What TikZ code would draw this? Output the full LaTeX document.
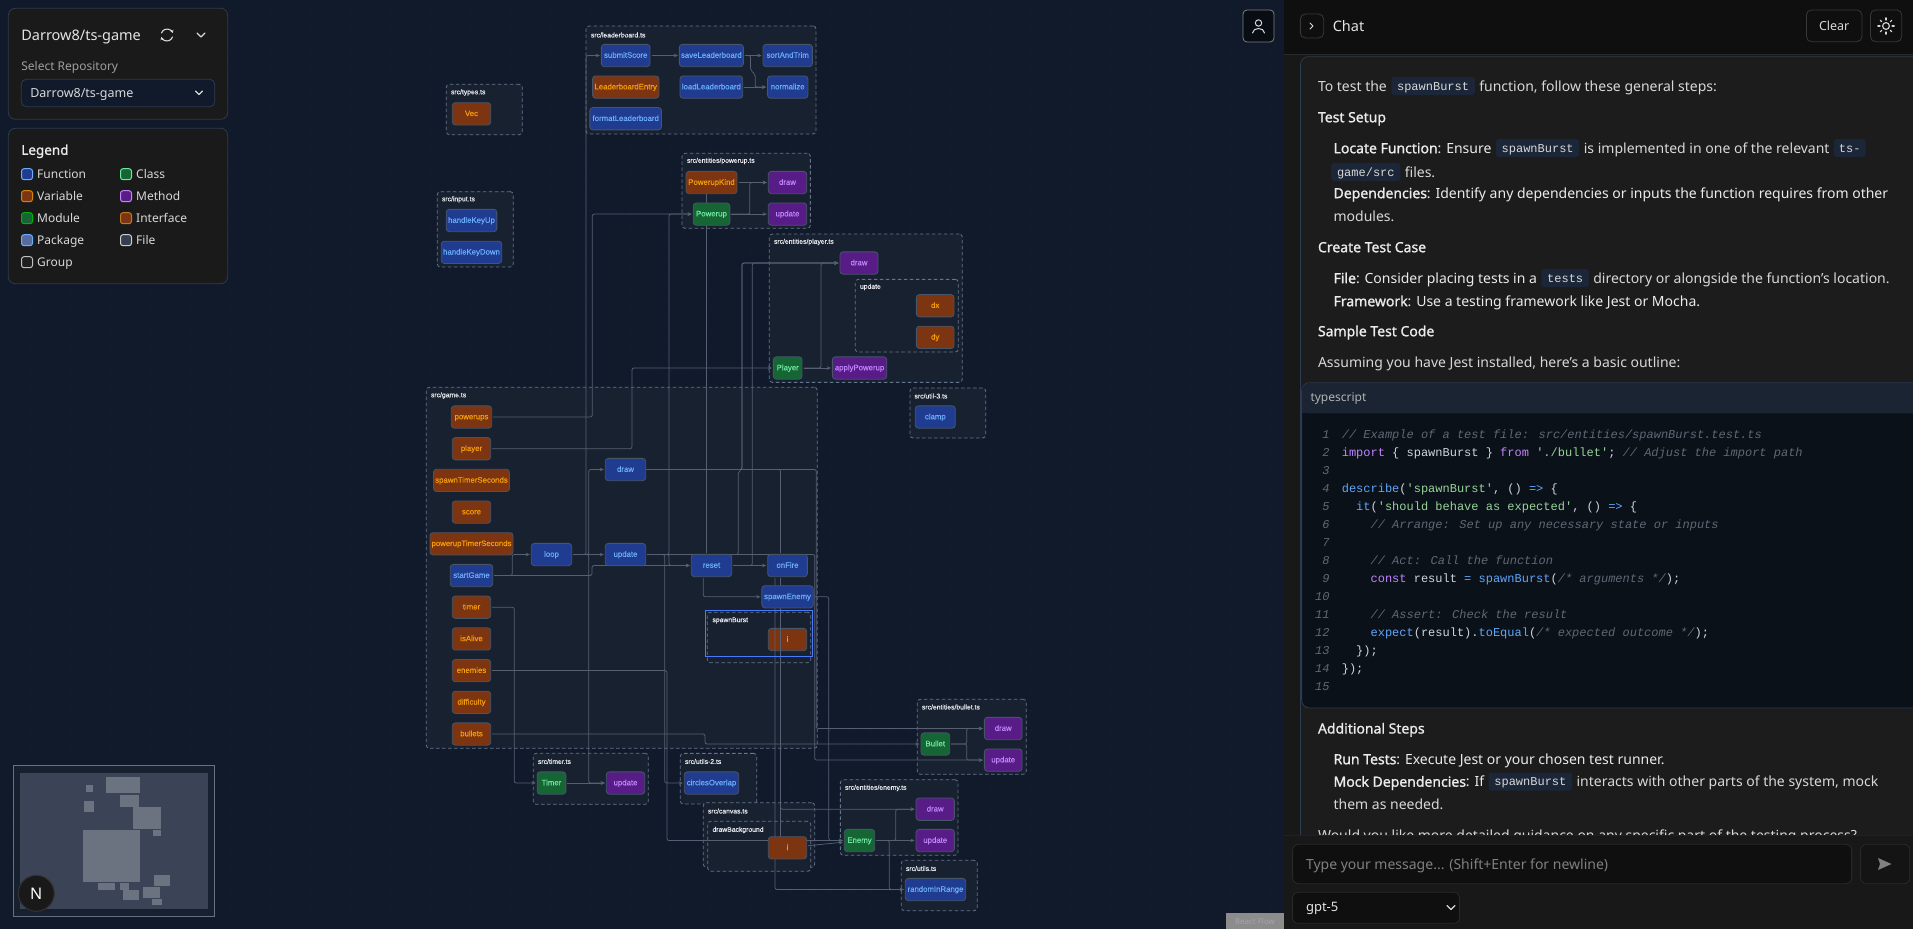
\documentclass[tikz,border=0pt]{standalone}
\usepackage{xcolor}
\usepackage{tikz}
\usepackage{fontspec}
\usetikzlibrary{positioning, arrows.meta, calc}
\setmainfont{Noto Sans}[BoldFont={Noto Sans}, BoldFeatures={FakeBold=1.1}]
\newfontfamily\codefont{Liberation Mono}
\newfontfamily\nodefont{Liberation Sans}[FakeBold=.35]
\pgfdeclarelayer{boxes}
\pgfdeclarelayer{wires}
\pgfsetlayers{boxes,wires,main}
\definecolor{canvas}{HTML}{111A2B}
\definecolor{griddot}{HTML}{1E2838}
\definecolor{groupfill}{HTML}{182130}
\definecolor{groupline}{HTML}{64748B}
\definecolor{wire}{HTML}{566072}
\definecolor{nodeline}{HTML}{475569}
\definecolor{funcfill}{HTML}{1F3C90}
\definecolor{functext}{HTML}{6BADFB}
\definecolor{varfill}{HTML}{7C3510}
\definecolor{vartext}{HTML}{F59E0B}
\definecolor{classfill}{HTML}{166534}
\definecolor{classtext}{HTML}{6EE7A0}
\definecolor{methfill}{HTML}{581C87}
\definecolor{methtext}{HTML}{C084FC}
\definecolor{panel}{HTML}{1A1A1A}
\definecolor{panelline}{HTML}{2C3B4F}
\definecolor{chatbg}{HTML}{1C1C1C}
\definecolor{chatfg}{HTML}{D8D8D8}
\definecolor{pillbg}{HTML}{1B2638}
\definecolor{codebg}{HTML}{0B1119}
\definecolor{codehead}{HTML}{1B2433}
\definecolor{cmt}{HTML}{5F6875}
\definecolor{kwd}{HTML}{C084FC}
\definecolor{fnc}{HTML}{60A5FA}
\definecolor{strg}{HTML}{98D39A}
\definecolor{plain}{HTML}{D1D5DB}
\definecolor{miniframe}{HTML}{667085}
\definecolor{miniback}{HTML}{17202F}
\definecolor{miniarea}{HTML}{3A4456}
\definecolor{miniblock}{HTML}{6B7280}

\begin{document}
\begin{tikzpicture}[x=1pt, y=-1pt, every node/.append style={outer sep=0pt},
		gnode/.style={draw=nodeline, rounded corners=3pt, line width=.8pt, minimum height=22.3pt, inner sep=0pt,
			text height=6pt, text depth=1.5pt, font=\fontsize{7.8}{9}\nodefont},
		func/.style={gnode, fill=funcfill, text=functext},
		var/.style={gnode, fill=varfill, text=vartext},
		cls/.style={gnode, fill=classfill, text=classtext},
		meth/.style={gnode, fill=methfill, text=methtext},
		filebox/.style={draw=groupline, fill=groupfill, dash pattern=on 3.5pt off 2.5pt, rounded corners=3pt, line width=.8pt, inner sep=0pt},
		grouplabel/.style={inner sep=0pt, anchor=west, yshift=-1pt, text=white!85!groupline, font=\fontsize{6.8}{8}\nodefont},
		link/.style={draw=wire, line width=.75pt, rounded corners=2pt, shorten <=1.5pt},
		flow/.style={link, shorten >=1.5pt, -{Stealth[length=4pt, width=3.6pt]}},
		card/.style={draw=panelline, fill=panel, rounded corners=7pt, line width=.8pt, inner sep=0pt},
		swatch/.style={rounded corners=2.5pt, line width=1pt, minimum width=11pt, minimum height=11pt, inner sep=0pt},
		legtext/.style={inner sep=0pt, text=chatfg, text height=10pt, text depth=1.5pt, font=\fontsize{12}{14}\selectfont},
		chat/.style={inner sep=0pt, anchor=west, text=chatfg, text height=11.7pt, text depth=1.3pt, font=\fontsize{14}{17}\selectfont},
		chathead/.style={chat, text=white!92!black, font=\fontsize{14}{17}\selectfont\bfseries},
		pill/.style={fill=pillbg, rounded corners=3pt, inner xsep=5.8pt, inner ysep=0pt, minimum height=18pt, text=chatfg,
			text height=9.5pt, text depth=1.5pt, font=\fontsize{12}{14}\codefont},
		code/.style={inner sep=0pt, anchor=west, text=plain, text height=9.5pt, text depth=1.5pt, font=\fontsize{12}{14}\codefont},
		lineno/.style={inner sep=0pt, anchor=east, text=cmt, text height=9.5pt, text depth=1.5pt, font=\fontsize{12}{14}\codefont\itshape},
		cmtline/.style={code, text=cmt, font=\fontsize{12}{14}\codefont\itshape},
		button/.style={draw=white!22!black, rounded corners=5pt, line width=.8pt, inner sep=0pt},
		iconline/.style={draw=white!85!black, line width=1.1pt, line cap=round, line join=round}]

	\useasboundingbox (0,0) rectangle (1913,929);
	\clip (0,0) rectangle (1913,929);

	\begin{pgfonlayer}{boxes}
		\fill[canvas] (0,0) rectangle (1284,929);
		\foreach \gx in {10,30,...,1270}
			\foreach \gy in {10,30,...,920}
				\fill[griddot] (\gx,\gy) rectangle ++(1.2,1.2);

		\node[filebox, minimum width=230pt, minimum height=108pt] (file-lb) at (701,80) {};
		\node[filebox, minimum width=76pt, minimum height=50.4pt] (file-types) at (484.3,109.5) {};
		\node[filebox, minimum width=76pt, minimum height=75.3pt] (file-input) at (475.3,229.3) {};
		\node[filebox, minimum width=128.3pt, minimum height=75pt] (file-pu) at (746.2,190.8) {};
		\node[filebox, minimum width=193pt, minimum height=148.3pt] (file-pl) at (865.8,308.2) {};
		\node[filebox, minimum width=103pt, minimum height=72.7pt] (group-update) at (906.8,315.7) {};
		\node[filebox, minimum width=75.7pt, minimum height=50pt] (file-util3) at (947.8,413) {};
		\node[filebox, minimum width=391pt, minimum height=361pt] (file-game) at (621.8,567.8) {};
		\node[filebox, minimum width=103.4pt, minimum height=50.4pt] (group-burst) at (759,637.5) {};
		\node[filebox, minimum width=109pt, minimum height=75pt] (file-bullet) at (971.8,736.8) {};
		\node[filebox, minimum width=76.4pt, minimum height=50.7pt] (file-util2) at (718.5,778.7) {};
		\node[filebox, minimum width=115pt, minimum height=51pt] (file-timer) at (590.8,778.8) {};
		\node[filebox, minimum width=111.4pt, minimum height=64.6pt] (file-canvas) at (759,835) {};
		\node[filebox, minimum width=103pt, minimum height=50pt] (group-bg) at (759.2,846.3) {};
		\node[filebox, minimum width=117.7pt, minimum height=75.6pt] (file-enemy) at (899.2,817.5) {};
		\node[filebox, minimum width=76pt, minimum height=50.4pt] (file-utils) at (939.3,885.5) {};

		\node[grouplabel] at (591,34) (lab-lb) {src/leaderboard.ts};
		\node[grouplabel] at (451,91.5) (lab-types) {src/types.ts};
		\node[grouplabel] at (442,198.5) (lab-input) {src/input.ts};
		\node[grouplabel] at (687,160) (lab-pu) {src/entities/powerup.ts};
		\node[grouplabel] at (774,241) (lab-pl) {src/entities/player.ts};
		\node[grouplabel] at (860,286) (lab-update) {update};
		\node[grouplabel] at (914.5,395) (lab-util3) {src/util-3.ts};
		\node[grouplabel] at (431,394.5) (lab-game) {src/game.ts};
		\node[grouplabel] at (712.5,619.5) (lab-burst) {spawnBurst};
		\node[grouplabel] at (922,706) (lab-bullet) {src/entities/bullet.ts};
		\node[grouplabel] at (685,760.5) (lab-util2) {src/utils-2.ts};
		\node[grouplabel] at (538,760.5) (lab-timer) {src/timer.ts};
		\node[grouplabel] at (708,810) (lab-canvas) {src/canvas.ts};
		\node[grouplabel] at (712.5,829) (lab-bg) {drawBackground};
		\node[grouplabel] at (845,787) (lab-enemy) {src/entities/enemy.ts};
		\node[grouplabel] at (906,867.5) (lab-utils) {src/utils.ts};

		\node[var, minimum width=38.4pt] (burst-i) at (787.5,639.5) {i};
	\end{pgfonlayer}

	\node[func, minimum width=48.7pt] (lb-submit) at (625.7,55.5) {submitScore};
	\node[func, minimum width=64pt, right = 29.3pt of lb-submit] (lb-save) {saveLeaderboard};
	\node[func, minimum width=49.3pt, right = 19.7pt of lb-save] (lb-sort) {sortAndTrim};
	\node[var, minimum width=66.4pt, below = 9.3pt of lb-submit] (lb-entry) {LeaderboardEntry};
	\node[func, minimum width=62.7pt, below = 9.3pt of lb-save] (lb-load) {loadLeaderboard};
	\node[func, minimum width=40.4pt, below = 9.3pt of lb-sort] (lb-normalize) {normalize};
	\node[func, minimum width=71.7pt, below = 9.3pt of lb-entry] (lb-format) {formatLeaderboard};

	\node[var, minimum width=38.4pt] (types-vec) at (471.5,113.8) {Vec};
	\node[func, minimum width=50.7pt] (input-up) at (471.5,220.5) {handleKeyUp};
	\node[func, minimum width=60.4pt, below = 9.5pt of input-up] (input-down) {handleKeyDown};

	\node[var, minimum width=51pt] (pu-kind) at (711.5,182.5) {PowerupKind};
	\node[cls, minimum width=36.7pt, below = 9.3pt of pu-kind] (pu-powerup) {Powerup};
	\node[meth, minimum width=38.4pt, right = 31.3pt of pu-kind] (pu-draw) {draw};
	\node[meth, minimum width=38.4pt, below = 9.3pt of pu-draw] (pu-update) {update};

	\node[meth, minimum width=38pt] (pl-draw) at (859,263) {draw};
	\node[var, minimum width=37.7pt] (pl-dx) at (935.2,305.7) {dx};
	\node[var, minimum width=37.7pt, below = 9.3pt of pl-dx] (pl-dy) {dy};
	\node[cls, minimum width=28.7pt] (pl-player) at (787.7,368) {Player};
	\node[meth, minimum width=54.4pt, right = 30.3pt of pl-player] (pl-apply) {applyPowerup};
	\node[func, minimum width=40pt] (util3-clamp) at (935.3,417) {clamp};

	\node[var, minimum width=40.4pt] (game-powerups) at (471.5,417) {powerups};
	\node[var, minimum width=38.4pt, below = 9.4pt of game-powerups] (game-player) {player};
	\node[var, minimum width=76pt, below = 9.4pt of game-player] (game-spawntimer) {spawnTimerSeconds};
	\node[var, minimum width=38.4pt, below = 9.4pt of game-spawntimer] (game-score) {score};
	\node[var, minimum width=83pt, below = 9.4pt of game-score] (game-putimer) {powerupTimerSeconds};
	\node[func, minimum width=42.4pt, below = 9.4pt of game-putimer] (game-start) {startGame};
	\node[var, minimum width=38.4pt, below = 9.4pt of game-start] (game-timer) {timer};
	\node[var, minimum width=38.4pt, below = 9.4pt of game-timer] (game-alive) {isAlive};
	\node[var, minimum width=38.4pt, below = 9.4pt of game-alive] (game-enemies) {enemies};
	\node[var, minimum width=38.4pt, below = 9.4pt of game-enemies] (game-difficulty) {difficulty};
	\node[var, minimum width=38.4pt, below = 9.4pt of game-difficulty] (game-bullets) {bullets};
	\node[func, minimum width=40.4pt] (game-loop) at (551.5,554.5) {loop};
	\node[func, minimum width=40.4pt, right = 33.6pt of game-loop] (game-update) {update};
	\node[func, minimum width=40.4pt] (game-draw) at (625.5,469.5) {draw};
	\node[func, minimum width=40.4pt] (game-reset) at (711.5,565.5) {reset};
	\node[func, minimum width=39.7pt] (game-onfire) at (787.5,565.5) {onFire};
	\node[func, minimum width=51.3pt, below = 9pt of game-onfire] (game-spawnenemy) {spawnEnemy};

	\node[cls, minimum width=28.7pt] (bu-bullet) at (935.3,744) {Bullet};
	\node[meth, minimum width=37.7pt] (bu-draw) at (1003.2,728.5) {draw};
	\node[meth, minimum width=37.7pt, below = 9.3pt of bu-draw] (bu-update) {update};
	\node[func, minimum width=54.4pt] (util2-circles) at (711.5,783) {circlesOverlap};
	\node[cls, minimum width=28.7pt] (timer-timer) at (551.5,783) {Timer};
	\node[meth, minimum width=38.4pt] (timer-update) at (625.5,783) {update};
	\node[var, minimum width=38.4pt] (canvas-i) at (787.5,847.8) {i};
	\node[cls, minimum width=30.4pt] (en-enemy) at (859.5,840.5) {Enemy};
	\node[meth, minimum width=38.3pt] (en-draw) at (935.2,809.2) {draw};
	\node[meth, minimum width=38.3pt, below = 9pt of en-draw] (en-update) {update};
	\node[func, minimum width=60.4pt] (utils-random) at (935.5,889.5) {randomInRange};

	\node[draw=functext!70!blue, line width=.9pt, inner sep=0pt, minimum width=107pt, minimum height=46.4pt] (burst-select) at (759.2,633.5) {};

	\begin{pgfonlayer}{wires}
		\draw[flow] (game-loop.east) -- (game-update.west);
		\draw[flow] (game-loop.east) -- ++(14.3,0) |- (lb-submit.west);
		\draw[flow] (game-loop.east) -- ++(17,0) |- (game-draw.west);
		\draw[flow] (game-loop.east) -- ++(17,0) |- (timer-update.west);
		\draw[flow] (lb-submit) -- (lb-save);
		\draw[flow] (lb-save) -- (lb-sort);
		\draw[flow] (lb-save.east) -- ++(7.2,0) -- ++(0,15) -- ++(4.6,3.5) |- (lb-normalize.west);
		\draw[flow] (lb-load) -- (lb-normalize);
		\draw[flow] (pu-kind) -- (pu-draw);
		\draw[flow] (pu-powerup) -- (pu-update);
		\draw[flow] (pu-powerup.east) -- ++(20,0) |- (pu-draw.west);
		\draw[link] ([xshift=-5.2pt]game-reset.north) -- ([xshift=-5.2pt]pu-kind.south);
		\draw[flow] (game-powerups.east) -- ++(100.6,0) |- (pu-powerup.west);
		\draw[flow] (game-update.east) -- ++(23.3,0) |- (pu-powerup.west);
		\draw[flow] (game-update.east) -- ++(19,0) |- (util2-circles.west);
		\draw[flow] (game-timer.east) -- ++(23.5,0) |- (timer-timer.west);
		\draw[flow] (game-bullets.east) -- ++(214.3,0) |- (bu-bullet.west);
		\draw[flow] (game-player.east) -- ++(141.3,0) |- (pl-player.west);
		\draw[flow] (game-draw.east) -- ++(96.3,0) |- (pl-draw.west);
		\draw[flow] (game-reset.east) -- ++(20.6,0) |- (pl-draw.west);
		\draw[flow] (game-update.east) -- ++(92.6,0) -- ++(0,-83) -- ++(3.7,-2) |- (pl-draw.west);
		\draw[flow] (pl-player) -- (pl-apply);
		\draw[flow] (pl-player.east) -- ++(19,0) |- (pl-draw.west);
		\draw[flow] (game-update.east) -- ++(169,0) |- (bu-update.west);
		\draw[flow] (game-draw.east) -- ++(170.6,0) |- (bu-draw.west);
		\draw[link] ([xshift=-7pt]game-onfire.north) |- (game-draw.east);
		\draw[flow] ([xshift=-12.5pt]game-onfire.south) |- (utils-random.west);
		\draw[link] ([xshift=-7pt]game-onfire.south) -- ([xshift=-7pt]canvas-i.north);
		\draw[flow] ([xshift=-7pt]game-onfire.south) |- (en-draw.west);
		\draw[flow] (game-spawnenemy.east) -- ++(15.7,0) |- (en-enemy.west);
		\draw[flow] (canvas-i) -- (en-enemy);
		\draw[flow] (game-enemies.east) -- ++(176.3,0) |- (en-enemy.west);
		\draw[flow] (en-enemy) -- (en-update);
		\draw[flow] (en-enemy.east) -- ++(21,0) |- (en-draw.west);
		\draw[flow] (en-enemy.east) -- ++(14.6,0) |- (utils-random.west);
		\draw[flow] ([xshift=-8.2pt]game-reset.south) |- (game-spawnenemy.west);
		\draw[flow] (game-reset) -- (game-onfire);
		\draw[flow] (game-start.east) -- ++(19.6,0) |- (game-loop.west);
		\draw[flow] (game-start.east) -- ++(99.3,0) |- (game-reset.west);
		\draw[flow] (game-update.east) -- ++(23.3,0) |- (game-reset.west);
		\draw[flow] (bu-bullet.east) -- ++(17,0) |- (bu-draw.west);
		\draw[flow] (bu-bullet.east) -- ++(17,0) |- (bu-update.west);
		\draw[flow] (timer-timer) -- (timer-update);
	\end{pgfonlayer}

	\node[card, minimum width=219.4pt, minimum height=111pt] (card-repo) at (118,63.8) {};
	\node[inner sep=0pt, anchor=west, yshift=-1.3pt, text=white!90!black, font=\fontsize{14.5}{17}\selectfont] (repo-title) at (21.3,36) {Darrow8/ts-game};
	\node[inner sep=0pt, anchor=west, yshift=-1.3pt, text=white!62!black, font=\fontsize{12}{14}\selectfont] (repo-label) at (21.3,65.7) {Select Repository};
	\node[draw=panelline, fill=canvas, rounded corners=5pt, line width=.8pt, inner sep=0pt, minimum width=193.4pt, minimum height=27.4pt] (repo-select) at (118,93) {};
	\node[inner sep=0pt, anchor=west, yshift=-1.3pt, text=chatfg, font=\fontsize{12.5}{15}\selectfont] (repo-value) at (30.3,92.7) {Darrow8/ts-game};
	\draw[iconline] (195.5,91) -- (199,94.5) -- (202.5,91);
	\draw[iconline] (197,33) -- (201,37) -- (205,33);
	\draw[iconline, -{Stealth[length=3pt, width=3.5pt]}] (161.5,33) arc[start angle=160, end angle=20, radius=6pt];
	\draw[iconline, -{Stealth[length=3pt, width=3.5pt]}] (172.5,37) arc[start angle=-20, end angle=-160, radius=6pt];

	\node[card, minimum width=219.4pt, minimum height=155.4pt] (card-legend) at (118,206) {};
	\node[inner sep=0pt, anchor=west, yshift=-1.3pt, text=white!92!black, font=\fontsize{13.5}{16}\selectfont\bfseries] (legend-title) at (21.3,150) {Legend};
	\node[swatch, draw=functext, fill=funcfill] (sw-function) at (27,174.2) {};
	\node[swatch, draw=vartext!85!black, fill=varfill, below = 11pt of sw-function] (sw-variable) {};
	\node[swatch, draw=green!70!black, fill=classfill, below = 11pt of sw-variable] (sw-module) {};
	\node[swatch, draw=functext, fill=funcfill!70!white!90!black, below = 11pt of sw-module] (sw-package) {};
	\node[swatch, draw=white!75!black, fill=white!12!black, below = 11pt of sw-package] (sw-group) {};
	\node[swatch, draw=classtext, fill=classfill] (sw-class) at (126,174.2) {};
	\node[swatch, draw=methtext, fill=methfill, below = 11pt of sw-class] (sw-method) {};
	\node[swatch, draw=vartext!50!varfill!90!white, fill=varfill, below = 11pt of sw-method] (sw-interface) {};
	\node[swatch, draw=white!80!black, fill=nodeline!75!black, below = 11pt of sw-interface] (sw-file) {};
	\node[legtext, right = 4.7pt of sw-function] (leg-function) {Function};
	\node[legtext, right = 4.7pt of sw-variable] (leg-variable) {Variable};
	\node[legtext, right = 4.7pt of sw-module] (leg-module) {Module};
	\node[legtext, right = 4.7pt of sw-package] (leg-package) {Package};
	\node[legtext, right = 4.7pt of sw-group] (leg-group) {Group};
	\node[legtext, right = 4.7pt of sw-class] (leg-class) {Class};
	\node[legtext, right = 4.7pt of sw-method] (leg-method) {Method};
	\node[legtext, right = 4.7pt of sw-interface] (leg-interface) {Interface};
	\node[legtext, right = 4.7pt of sw-file] (leg-file) {File};

	\node[draw=miniframe, fill=miniback, line width=.9pt, inner sep=0pt, minimum width=201.4pt, minimum height=151pt] (mini-frame) at (114,840.8) {};
	\node[fill=miniarea, inner sep=0pt, minimum width=187.7pt, minimum height=136.3pt] (mini-area) at (114.2,840.8) {};
	\foreach \ax/\ay/\bx/\by in {106/777/140/793, 86/785/93/792, 120/795/139/807, 84/801/94/812, 133/807/161/829, 153/830/161/836, 83/830/140/882, 98/883/115/890, 120/883/129/890, 123/890/139/900, 143/887/160/898, 154/875/170/886, 152/899/162/905}
		\fill[miniblock] (\ax,\ay) rectangle (\bx,\by);
	\node[circle, draw=white!20!black, fill=black!90!white, line width=1pt, minimum size=36pt, inner sep=0pt, text=white, font=\fontsize{16}{18}\selectfont] (next-badge) at (36.3,893.3) {N};

	\node[draw=white!50!black, fill=black!55!canvas, rounded corners=4pt, line width=.8pt, inner sep=0pt, minimum width=31pt, minimum height=32pt] (user-btn) at (1258.5,26) {};
	\draw[iconline, line width=1pt] (1258.5,23) circle[radius=3.2pt];
	\draw[iconline, line width=1pt] (1252.5,33) .. controls (1253,27) and (1264,27) .. (1264.5,33);

	\node[fill=gray!90!white, inner sep=0pt, minimum width=58pt, minimum height=16pt, text=gray!70!white, font=\fontsize{8}{9}\selectfont] (flow-mark) at (1255,921) {React Flow};

	\fill[chatbg!85!black] (1284,0) rectangle (1913,929);
	\fill[black!94!white] (1284,0) rectangle (1913,54);
	\draw[white!16!black, line width=.8pt] (1284,54) -- (1913,54);
	\node[button, minimum width=23.3pt, minimum height=24pt] (chat-toggle) at (1312,26) {};
	\draw[iconline, line width=.9pt] (1310,23) -- (1313,26) -- (1310,29);
	\node[chat, text=white!90!black, font=\fontsize{14.5}{17}\selectfont] (chat-title) at (1332.8,26) {Chat};
	\node[button, minimum width=55.5pt, minimum height=31.7pt, text height=10.5pt, text depth=1.5pt, text=chatfg, font=\fontsize{12.5}{15}\selectfont] (chat-clear) at (1834.2,25.8) {Clear};
	\node[button, minimum width=31.2pt, minimum height=31.7pt] (chat-theme) at (1886.1,25.8) {};
	\draw[iconline] (1886,26) circle[radius=3.4pt];
	\foreach \ang in {0,45,...,315}
		\draw[iconline] ($(1886,26)+(\ang:6pt)$) -- ($(1886,26)+(\ang:8.2pt)$);

	\node[draw=panelline, fill=chatbg, rounded corners=8pt, line width=.8pt, inner sep=0pt, anchor=north west, minimum width=640pt, minimum height=840pt] (msg-box) at (1300.4,56.7) {};

	\node[chat] (msg-1) at (1318,86) {To test the};
	\node[pill, right = 4.4pt of msg-1] (msg-1b) {spawnBurst};
	\node[chat, right = 4.4pt of msg-1b] (msg-1c) {function, follow these general steps:};
	\node[chathead] (msg-2) at (1318,117) {Test Setup};
	\node[chathead] (msg-3) at (1333.6,148) {Locate Function{\normalfont:} {\normalfont Ensure}};
	\node[pill, right = 4.4pt of msg-3] (msg-3b) {spawnBurst};
	\node[chat, right = 4.4pt of msg-3b] (msg-3c) {is implemented in one of the relevant};
	\node[pill, right = 4.4pt of msg-3c, inner xsep=5pt] (msg-3d) {ts-};
	\node[pill] (msg-4) at (1365.8,172) {game/src};
	\node[chat, right = 4.4pt of msg-4] (msg-4b) {files.};
	\node[chathead] (msg-5) at (1333.6,193) {Dependencies{\normalfont: Identify any dependencies or inputs the function requires from other}};
	\node[chat] (msg-6) at (1333.6,216.5) {modules.};
	\node[chathead] (msg-7) at (1318,247) {Create Test Case};
	\node[chathead] (msg-8) at (1333.6,278) {File{\normalfont: Consider placing tests in a}};
	\node[pill, right = 4.4pt of msg-8] (msg-8b) {tests};
	\node[chat, right = 4.4pt of msg-8b] (msg-8c) {directory or alongside the function's location.};
	\node[chathead] (msg-9) at (1333.6,301) {Framework{\normalfont: Use a testing framework like Jest or Mocha.}};
	\node[chathead] (msg-10) at (1318,331) {Sample Test Code};
	\node[chat] (msg-11) at (1318,362) {Assuming you have Jest installed, here's a basic outline:};

	\node[draw=panelline, fill=codebg, rounded corners=8pt, line width=.8pt, inner sep=0pt, anchor=north west, minimum width=640pt, minimum height=325.3pt] (code-box) at (1301.6,382.7) {};
	\fill[codehead, rounded corners=8pt] (1302,383.2) -- (1302,413.3) -- (1930,413.3) -- (1930,383.2) -- cycle;
	\fill[codehead] (1302,400) rectangle (1930,413.3);
	\node[inner sep=0pt, anchor=west, yshift=-1pt, text=white!70!black, font=\fontsize{12}{14}\selectfont] (code-lang) at (1310.5,397.5) {typescript};

	\foreach \n in {1,...,15}
		\node[lineno] (no-\n) at (1329.5,{434.7+(\n-1)*18}) {\n};
	\node[cmtline] (code-1) at (1341.8,434.7) {// Example of a test file: src/entities/spawnBurst.test.ts};
	\node[code] (code-2) at (1341.8,452.7) {\textcolor{kwd}{import} \{ spawnBurst \} \textcolor{kwd}{from} \textcolor{strg}{'./bullet'}; \textcolor{cmt}{\itshape // Adjust the import path}};
	\node[code] (code-4) at (1341.8,488.7) {\textcolor{fnc}{describe}(\textcolor{strg}{'spawnBurst'}, () \textcolor{fnc}{=>} \{};
	\node[code] (code-5) at (1356.2,506.7) {\textcolor{fnc}{it}(\textcolor{strg}{'should behave as expected'}, () \textcolor{fnc}{=>} \{};
	\node[cmtline] (code-6) at (1370.6,524.7) {// Arrange: Set up any necessary state or inputs};
	\node[cmtline] (code-8) at (1370.6,560.7) {// Act: Call the function};
	\node[code] (code-9) at (1370.6,578.7) {\textcolor{kwd}{const} result \textcolor{fnc}{=} \textcolor{fnc}{spawnBurst}(\textcolor{cmt}{\itshape /* arguments */});};
	\node[cmtline] (code-11) at (1370.6,614.7) {// Assert: Check the result};
	\node[code] (code-12) at (1370.6,632.7) {\textcolor{fnc}{expect}(result).\textcolor{fnc}{toEqual}(\textcolor{cmt}{\itshape /* expected outcome */});};
	\node[code] (code-13) at (1356.2,650.7) {\});};
	\node[code] (code-14) at (1341.8,668.7) {\});};

	\node[chathead] (msg-12) at (1318,728.3) {Additional Steps};
	\node[chathead] (msg-13) at (1333.6,759) {Run Tests{\normalfont: Execute Jest or your chosen test runner.}};
	\node[chathead] (msg-14) at (1333.6,781.5) {Mock Dependencies{\normalfont: If}};
	\node[pill, right = 4.4pt of msg-14] (msg-14b) {spawnBurst};
	\node[chat, right = 4.4pt of msg-14b] (msg-14c) {interacts with other parts of the system, mock};
	\node[chat] (msg-15) at (1333.6,804) {them as needed.};
	\node[chat] (msg-16) at (1318,835) {Would you like more detailed guidance on any specific part of the testing process?};

	\fill[chatbg!85!black] (1284,835) rectangle (1913,929);
	\draw[white!13!black, line width=.8pt] (1284,835) -- (1913,835);
	\node[draw=white!16!black, fill=black!94!white, rounded corners=6pt, line width=.8pt, inner sep=0pt, minimum width=559pt, minimum height=39.4pt] (input-box) at (1572.1,864) {};
	\node[chat, text=white!50!black] (input-hint) at (1306,864) {Type your message... (Shift+Enter for newline)};
	\node[draw=white!16!black, fill=white!8!black, rounded corners=6pt, line width=.8pt, inner sep=0pt, minimum width=49.2pt, minimum height=39.4pt] (send-btn) at (1885.2,864) {};
	\fill[white!50!black] (1878,858) -- (1891.5,864) -- (1878,870) -- (1880,864) -- cycle;
	\node[draw=white!16!black, fill=black!94!white, rounded corners=5pt, line width=.8pt, inner sep=0pt, minimum width=167pt, minimum height=31pt] (model-select) at (1376,907.8) {};
	\node[chat, text=white!90!black, font=\fontsize{13}{15}\selectfont] (model-value) at (1306,906.4) {gpt-5};
	\draw[iconline, line width=1.2pt] (1447,905.5) -- (1451,909.5) -- (1455,905.5);
\end{tikzpicture}
\end{document}
